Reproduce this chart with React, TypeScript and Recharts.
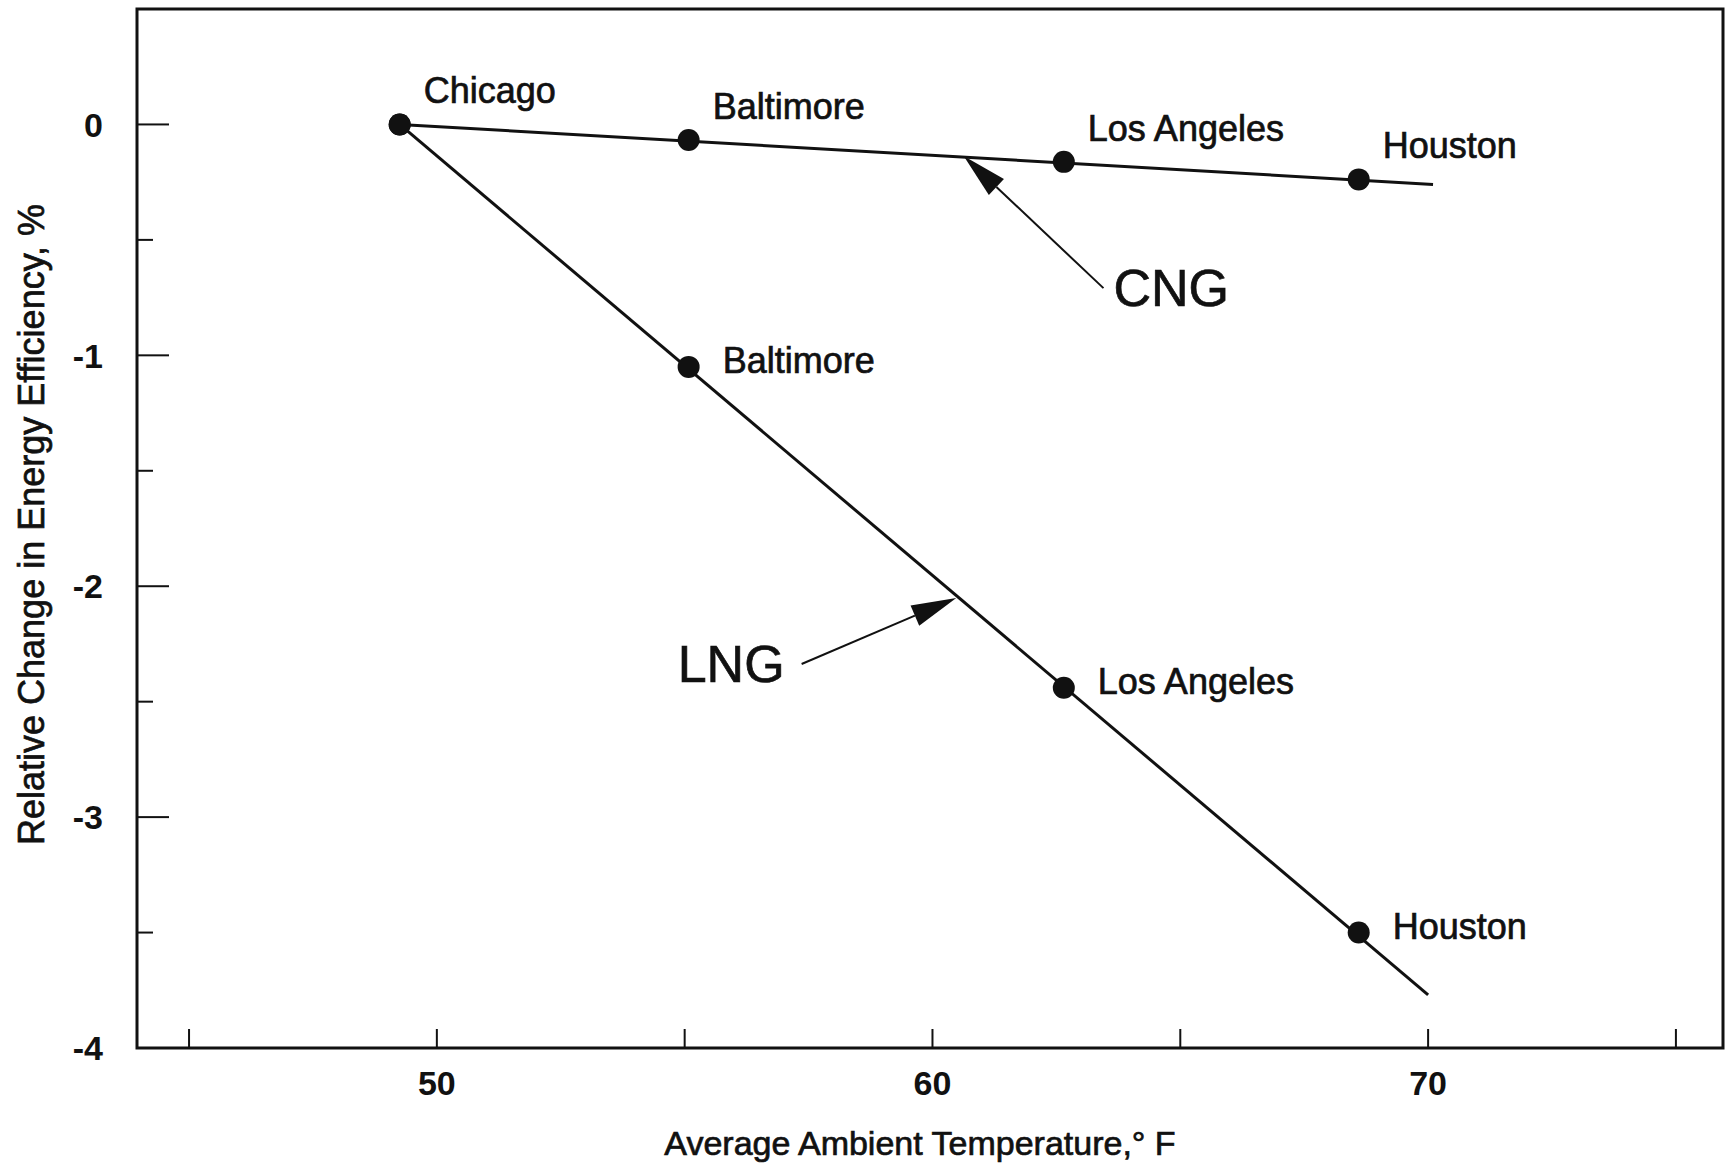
import {
  ComposedChart,
  Label,
  Line,
  ReferenceArea,
  ReferenceLine,
  Scatter,
  XAxis,
  YAxis,
} from "recharts";

const FONT = '"Liberation Sans", Arial, Helvetica, sans-serif';
const INK = "#111";

// city average temperatures (°F) and the change in efficiency (%) for each fuel
const CITIES = ["Chicago", "Baltimore", "Los Angeles", "Houston"];
const TEMPS_F = [49.25, 55.08, 62.65, 68.6];
const CNG_CHANGE = [0, -0.067, -0.162, -0.238];
const LNG_CHANGE = [0, -1.05, -2.44, -3.5];

// fitted lines, carried on past Houston to 70 °F
const CNG_FIT_T = [49.25, 70.1];
const CNG_FIT_V = [0, -0.26];
const LNG_FIT_T = [49.25, 70];
const LNG_FIT_V = [0, -3.77];

const X_DOMAIN = [43.95, 75.95];
const Y_DOMAIN = [-4, 0.5];
const X_TICKS = [45, 50, 55, 60, 65, 70, 75];
const X_LABELED = [50, 60, 70];
const Y_TICKS = [-4, -3.5, -3, -2.5, -2, -1.5, -1, -0.5, 0];

// callout arrows: name, tail (t, v), tip (t, v)
const CALLOUTS = [
  { name: "CNG", from: [63.45, -0.709], to: [60.63, -0.137], side: "right" },
  { name: "LNG", from: [57.36, -2.337], to: [60.48, -2.051], side: "left" },
];

const cngPoints = CITIES.map((city, i) => ({ city, t: TEMPS_F[i], v: CNG_CHANGE[i] }));
const lngPoints = CITIES.map((city, i) => ({ city, t: TEMPS_F[i], v: LNG_CHANGE[i] }));
const cngFit = CNG_FIT_T.map((t, i) => ({ t, v: CNG_FIT_V[i] }));
const lngFit = LNG_FIT_T.map((t, i) => ({ t, v: LNG_FIT_V[i] }));

// thin outline so the regular face reads a bit heavier, like the printed labels
const heavy = { stroke: INK, strokeWidth: 0.7 };

function YTick({ x, y, payload }: any) {
  const v = payload.value as number;
  const major = Number.isInteger(v);
  return (
    <g>
      {v !== Y_DOMAIN[0] && (
        <line x1={x} x2={x + (major ? 32 : 16)} y1={y} y2={y} stroke={INK} strokeWidth={2} />
      )}
      {major && (
        <text
          x={x - 34}
          y={y}
          dy="0.36em"
          textAnchor="end"
          fontFamily={FONT}
          fontSize={34}
          fontWeight="bold"
          fill={INK}
        >
          {String(v)}
        </text>
      )}
    </g>
  );
}

function XTick({ x, y, payload }: any) {
  const v = payload.value as number;
  return (
    <g>
      <line x1={x} x2={x} y1={y} y2={y - 19} stroke={INK} strokeWidth={2} />
      {X_LABELED.includes(v) && (
        <text
          x={x}
          y={y + 35}
          dy="0.36em"
          textAnchor="middle"
          fontFamily={FONT}
          fontSize={34}
          fontWeight="bold"
          fill={INK}
        >
          {String(v)}
        </text>
      )}
    </g>
  );
}

// dot plus city name; skipFirst keeps the shared Chicago label from being drawn twice
function cityMarker(dx: number, dy: number, skipFirst: boolean) {
  return (props: any) => {
    const { cx, cy, payload } = props;
    const showLabel = !(skipFirst && payload.city === CITIES[0]);
    return (
      <g>
        <circle cx={cx} cy={cy} r={11} fill={INK} />
        {showLabel && (
          <text x={cx + dx} y={cy + dy} fontFamily={FONT} fontSize={36} fill={INK} {...heavy}>
            {payload.city}
          </text>
        )}
      </g>
    );
  };
}

function arrowShape(name: string, side: string) {
  return (props: any) => {
    const { x1, y1, x2, y2 } = props;
    const len = Math.hypot(x2 - x1, y2 - y1);
    const ux = (x2 - x1) / len;
    const uy = (y2 - y1) / len;
    const headLen = 45;
    const half = 11;
    const bx = x2 - ux * headLen;
    const by = y2 - uy * headLen;
    const pts = `${x2},${y2} ${bx - uy * half},${by + ux * half} ${bx + uy * half},${by - ux * half}`;
    return (
      <g>
        <line x1={x1} y1={y1} x2={bx} y2={by} stroke={INK} strokeWidth={2} />
        <polygon points={pts} fill={INK} />
        <text
          x={side === "right" ? x1 + 10 : x1 - 17}
          y={y1 + 18}
          textAnchor={side === "right" ? "start" : "end"}
          fontFamily={FONT}
          fontSize={52}
          fill={INK}
          {...heavy}
        >
          {name}
        </text>
      </g>
    );
  };
}

export default function App() {
  return (
    <div style={{ position: "absolute", left: 0, top: 0, background: "#fff" }}>
      <ComposedChart width={1726} height={1169} margin={{ top: 9, right: 3, bottom: 0, left: 0 }}>
        <XAxis
          type="number"
          dataKey="t"
          domain={X_DOMAIN}
          ticks={X_TICKS}
          tick={<XTick />}
          tickLine={false}
          tickSize={0}
          tickMargin={0}
          axisLine={false}
          height={121}
          allowDataOverflow
        >
          <Label
            content={({ viewBox }: any) => (
              <text
                x={viewBox.x + viewBox.width / 2 - 10}
                y={viewBox.y + 107}
                textAnchor="middle"
                fontFamily={FONT}
                fontSize={34}
                fill={INK}
                {...heavy}
              >
                Average Ambient Temperature,° F
              </text>
            )}
          />
        </XAxis>
        <YAxis
          type="number"
          dataKey="v"
          domain={Y_DOMAIN}
          ticks={Y_TICKS}
          tick={<YTick />}
          tickLine={false}
          tickSize={0}
          tickMargin={0}
          axisLine={false}
          width={137}
          allowDataOverflow
        >
          <Label
            content={({ viewBox }: any) => {
              const cx = viewBox.x + 31;
              const cy = viewBox.y + viewBox.height / 2 - 4;
              return (
                <text
                  x={cx}
                  y={cy}
                  dy="0.36em"
                  textAnchor="middle"
                  transform={`rotate(-90 ${cx} ${cy})`}
                  fontFamily={FONT}
                  fontSize={36}
                  fill={INK}
                  {...heavy}
                >
                  Relative Change in Energy Efficiency, %
                </text>
              );
            }}
          />
        </YAxis>

        <ReferenceArea
          x1={X_DOMAIN[0]}
          x2={X_DOMAIN[1]}
          y1={Y_DOMAIN[0]}
          y2={Y_DOMAIN[1]}
          fill="none"
          fillOpacity={0}
          stroke={INK}
          strokeWidth={3}
          ifOverflow="visible"
        />

        <Line data={cngFit} dataKey="v" type="linear" stroke={INK} strokeWidth={3} dot={false} isAnimationActive={false} />
        <Line data={lngFit} dataKey="v" type="linear" stroke={INK} strokeWidth={3} dot={false} isAnimationActive={false} />

        <Scatter data={cngPoints} dataKey="v" shape={cityMarker(24, -21, false)} isAnimationActive={false} />
        <Scatter data={lngPoints} dataKey="v" shape={cityMarker(34, 6, true)} isAnimationActive={false} />

        {CALLOUTS.map((c) => (
          <ReferenceLine
            key={c.name}
            segment={[
              { x: c.from[0], y: c.from[1] },
              { x: c.to[0], y: c.to[1] },
            ]}
            ifOverflow="visible"
            shape={arrowShape(c.name, c.side)}
          />
        ))}
      </ComposedChart>
    </div>
  );
}
